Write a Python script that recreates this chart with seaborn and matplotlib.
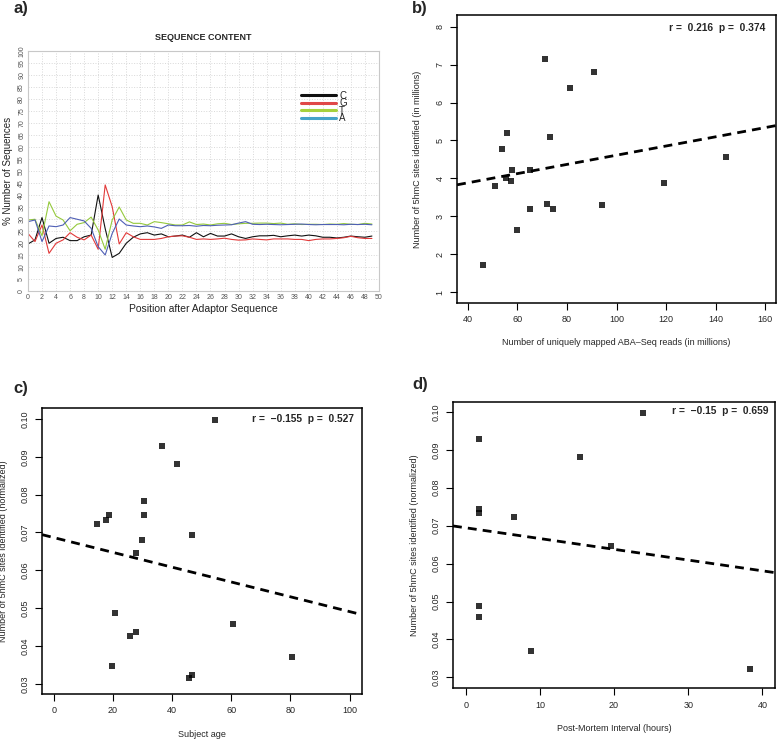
import matplotlib.pyplot as plt
import numpy as np
import pandas as pd
import seaborn as sns
from matplotlib.lines import Line2D


sns.set_theme(style="white")
plt.rcParams["font.family"] = ["Liberation Sans", "DejaVu Sans"]
plt.rcParams["axes.unicode_minus"] = True

# a) base composition after the adaptor sequence (% of sequences)
positions = list(range(50))
pct_c = [19.6, 21.3, 30.6, 19.9, 21.9, 22.4, 21.0, 21.0, 22.6, 23.3,
         40.0, 26.0, 14.0, 15.7, 19.9, 22.4, 23.8, 24.3, 23.3, 23.8,
         22.6, 22.9, 23.3, 22.4, 24.3, 22.6, 24.0, 22.9, 22.9, 23.8,
         22.6, 21.9, 22.6, 23.0, 23.0, 23.2, 22.6, 23.0, 23.3, 22.9,
         23.3, 23.0, 22.4, 22.4, 22.1, 22.4, 22.9, 22.6, 22.4, 22.9]
pct_g = [24.0, 20.6, 27.5, 15.7, 19.9, 21.3, 24.3, 22.4, 21.3, 23.3,
         17.4, 44.2, 35.1, 19.6, 24.3, 22.6, 21.5, 21.5, 21.5, 21.9,
         22.6, 22.9, 23.0, 22.4, 21.5, 21.7, 21.5, 21.7, 22.0, 21.5,
         21.2, 21.3, 21.7, 21.5, 21.3, 21.7, 21.7, 21.7, 21.5, 21.5,
         21.0, 21.5, 21.7, 21.7, 21.9, 22.2, 22.8, 22.2, 21.9, 21.9]
pct_t = [29.6, 29.9, 23.0, 37.2, 31.2, 29.6, 25.1, 27.8, 28.5, 30.8,
         25.4, 17.4, 29.6, 35.0, 29.6, 28.2, 28.2, 27.5, 28.9, 28.5,
         28.0, 27.5, 27.5, 28.8, 27.7, 27.9, 27.5, 28.0, 28.2, 27.7,
         28.0, 28.2, 28.2, 28.3, 28.3, 28.1, 28.3, 27.8, 28.0, 27.7,
         27.8, 27.8, 27.7, 27.9, 27.8, 28.1, 27.8, 27.7, 28.2, 27.9]
pct_a = [28.9, 29.6, 20.6, 27.1, 26.8, 27.5, 30.6, 29.9, 29.2, 26.1,
         18.5, 15.0, 24.0, 30.0, 27.5, 27.1, 26.8, 27.1, 26.7, 26.1,
         27.5, 27.2, 27.2, 27.3, 27.0, 27.3, 27.2, 27.4, 27.5, 27.6,
         28.3, 28.9, 27.8, 27.7, 27.8, 27.7, 27.6, 27.7, 27.8, 27.9,
         27.7, 27.6, 27.7, 27.7, 27.7, 27.6, 27.8, 27.7, 27.8, 27.6]
bases = ["C", "G", "T", "A"]
line_colors = {"C": "#111111", "G": "#e23a3a", "T": "#95c93d", "A": "#4f5fb5"}
legend_colors = {"C": "#111111", "G": "#e04848", "T": "#a6d13c", "A": "#45a3c8"}

# b) uniquely mapped reads vs 5hmC sites (both in millions)
reads_m = [45.9, 51.1, 53.7, 55.7, 55.2, 57.5, 57.7, 59.9, 64.9, 65.1,
           71.3, 72.0, 73.3, 74.4, 81.2, 90.9, 94.2, 119.1, 144.0]
sites_m = [1.71, 3.81, 4.77, 5.20, 4.01, 3.93, 4.23, 2.63, 4.21, 3.20,
           7.16, 3.33, 5.10, 3.18, 6.38, 6.80, 3.29, 3.87, 4.56]

# c) subject age vs normalized 5hmC sites
age = [14.6, 17.6, 18.6, 19.7, 20.6, 25.7, 27.7, 27.7, 29.7, 30.6,
       30.6, 36.6, 41.7, 45.7, 46.7, 46.7, 54.6, 60.7, 80.7]
sites_age = [0.0722, 0.0732, 0.0745, 0.0347, 0.0488, 0.0426, 0.0437, 0.0645, 0.0680, 0.0745,
             0.0782, 0.0928, 0.0882, 0.0315, 0.0324, 0.0693, 0.0998, 0.0459, 0.0372]

# d) post-mortem interval vs normalized 5hmC sites
pmi = [1.8, 1.8, 1.8, 1.8, 1.8, 6.5, 8.8, 15.4, 19.6, 23.9, 38.3]
sites_pmi = [0.0928, 0.0745, 0.0733, 0.0488, 0.0459, 0.0723, 0.0370, 0.0881, 0.0646, 0.0998, 0.0323]

stats_b = "r =  0.216  p =  0.374"
stats_c = "r =  \u22120.155  p =  0.527"
stats_d = "r =  \u22120.15  p =  0.659"

fig = plt.figure(figsize=(7.77, 7.39), dpi=100)
ax_a = fig.add_axes([0.036, 0.6062, 0.4517, 0.3248])
ax_b = fig.add_axes([0.5882, 0.590, 0.4106, 0.3897])
ax_c = fig.add_axes([0.0541, 0.0609, 0.4118, 0.3870])
ax_d = fig.add_axes([0.583, 0.069, 0.4144, 0.3870])

# ---- panel a
seq = pd.DataFrame({
    "position": positions * 4,
    "pct": pct_c + pct_g + pct_t + pct_a,
    "base": np.repeat(bases, len(positions)),
})
sns.lineplot(data=seq, x="position", y="pct", hue="base", palette=line_colors,
             linewidth=0.8, ax=ax_a, legend=False)
ax_a.set_xlim(0, 50)
ax_a.set_ylim(0, 100)
ax_a.set_xticks(np.arange(0, 51, 2))
ax_a.set_yticks(np.arange(0, 101, 5))
ax_a.grid(True, color="#d8d8d8", linestyle=":", linewidth=0.7)
for spine in ax_a.spines.values():
    spine.set_color("#c8c8c8")
    spine.set_linewidth(0.8)
ax_a.tick_params(axis="both", labelsize=5, colors="#555555", length=0, pad=2)
plt.setp(ax_a.get_yticklabels(), rotation=90, va="center")
ax_a.set_xlabel("Position after Adaptor Sequence", fontsize=7.5, color="#222222")
ax_a.set_ylabel("% Number of Sequences", fontsize=7, color="#222222")
ax_a.xaxis.set_label_coords(0.5, -0.055)
ax_a.yaxis.set_label_coords(-0.043, 0.5)
ax_a.set_title("SEQUENCE CONTENT", fontsize=6.5, fontweight="bold", y=1.0, pad=8)
handles = [Line2D([0], [0], color=legend_colors[b], linewidth=2.2) for b in bases]
ax_a.legend(handles, bases, loc="upper left", bbox_to_anchor=(0.765, 0.855), frameon=False,
            fontsize=7, handlelength=3.6, handletextpad=0.3, labelspacing=-0.25, borderpad=0)


# ---- panels b-d, R base-graphics look
def r_style(ax, x, y, xlim, ylim, xticks, yticks, xlabel, ylabel, stats, stats_pos, yfmt=None):
    ax.set_xlim(xlim)
    ax.set_ylim(ylim)
    sns.regplot(x=np.array(x), y=np.array(y), ax=ax, ci=None, truncate=False, marker="s",
                scatter_kws={"s": 17, "color": "black", "linewidths": 0},
                line_kws={"color": "black", "linewidth": 2.0, "dashes": (3.2, 2.2)})
    ax.set_xlim(xlim)
    ax.set_ylim(ylim)
    ax.set_xticks(xticks)
    ax.set_yticks(yticks)
    if yfmt:
        ax.set_yticklabels([yfmt.format(v) for v in yticks])
    for spine in ax.spines.values():
        spine.set_color("black")
        spine.set_linewidth(1.1)
    ax.tick_params(axis="both", direction="out", length=5, width=0.8, color="black",
                   labelsize=6.5, pad=4, bottom=True, left=True)
    plt.setp(ax.get_yticklabels(), rotation=90, va="center")
    ax.set_xlabel(xlabel, fontsize=6.5)
    ax.set_ylabel(ylabel, fontsize=6.5)
    ax.grid(False)
    ax.text(stats_pos[0], stats_pos[1], stats, transform=ax.transAxes, ha="right", va="center",
            fontsize=7.4, fontweight="bold")


r_style(ax_b, reads_m, sites_m, (35.6, 164.4), (0.71, 8.31), np.arange(40, 161, 20), np.arange(1, 9),
        "Number of uniquely mapped ABA\u2013Seq reads (in millions)",
        "Number of 5hmC sites identified (in millions)", stats_b, (0.968, 0.955))
ax_b.xaxis.set_label_coords(0.5, -0.122)
ax_b.yaxis.set_label_coords(-0.110, 0.5)

r_style(ax_c, age, sites_age, (-3.94, 104.2), (0.0273, 0.1029), np.arange(0, 101, 20),
        np.arange(0.03, 0.1001, 0.01), "Subject age",
        "Number of 5hmC sites identified (normalized)", stats_c, (0.975, 0.963), "{:.2f}")
ax_c.xaxis.set_label_coords(0.5, -0.125)
ax_c.yaxis.set_label_coords(-0.106, 0.5)

r_style(ax_d, pmi, sites_pmi, (-1.71, 41.7), (0.0272, 0.1026), np.arange(0, 41, 10),
        np.arange(0.03, 0.1001, 0.01), "Post-Mortem Interval (hours)",
        "Number of 5hmC sites identified (normalized)", stats_d, (0.981, 0.970), "{:.2f}")
ax_d.xaxis.set_label_coords(0.5, -0.125)
ax_d.yaxis.set_label_coords(-0.106, 0.5)

for label, (px, py) in {"a)": (13, 8), "b)": (412, 8), "c)": (13, 388), "d)": (412, 385)}.items():
    fig.text(px / 777, 1 - py / 739, label, fontsize=12, fontweight="bold", ha="left", va="center")

fig.savefig("out.png", dpi=100)
